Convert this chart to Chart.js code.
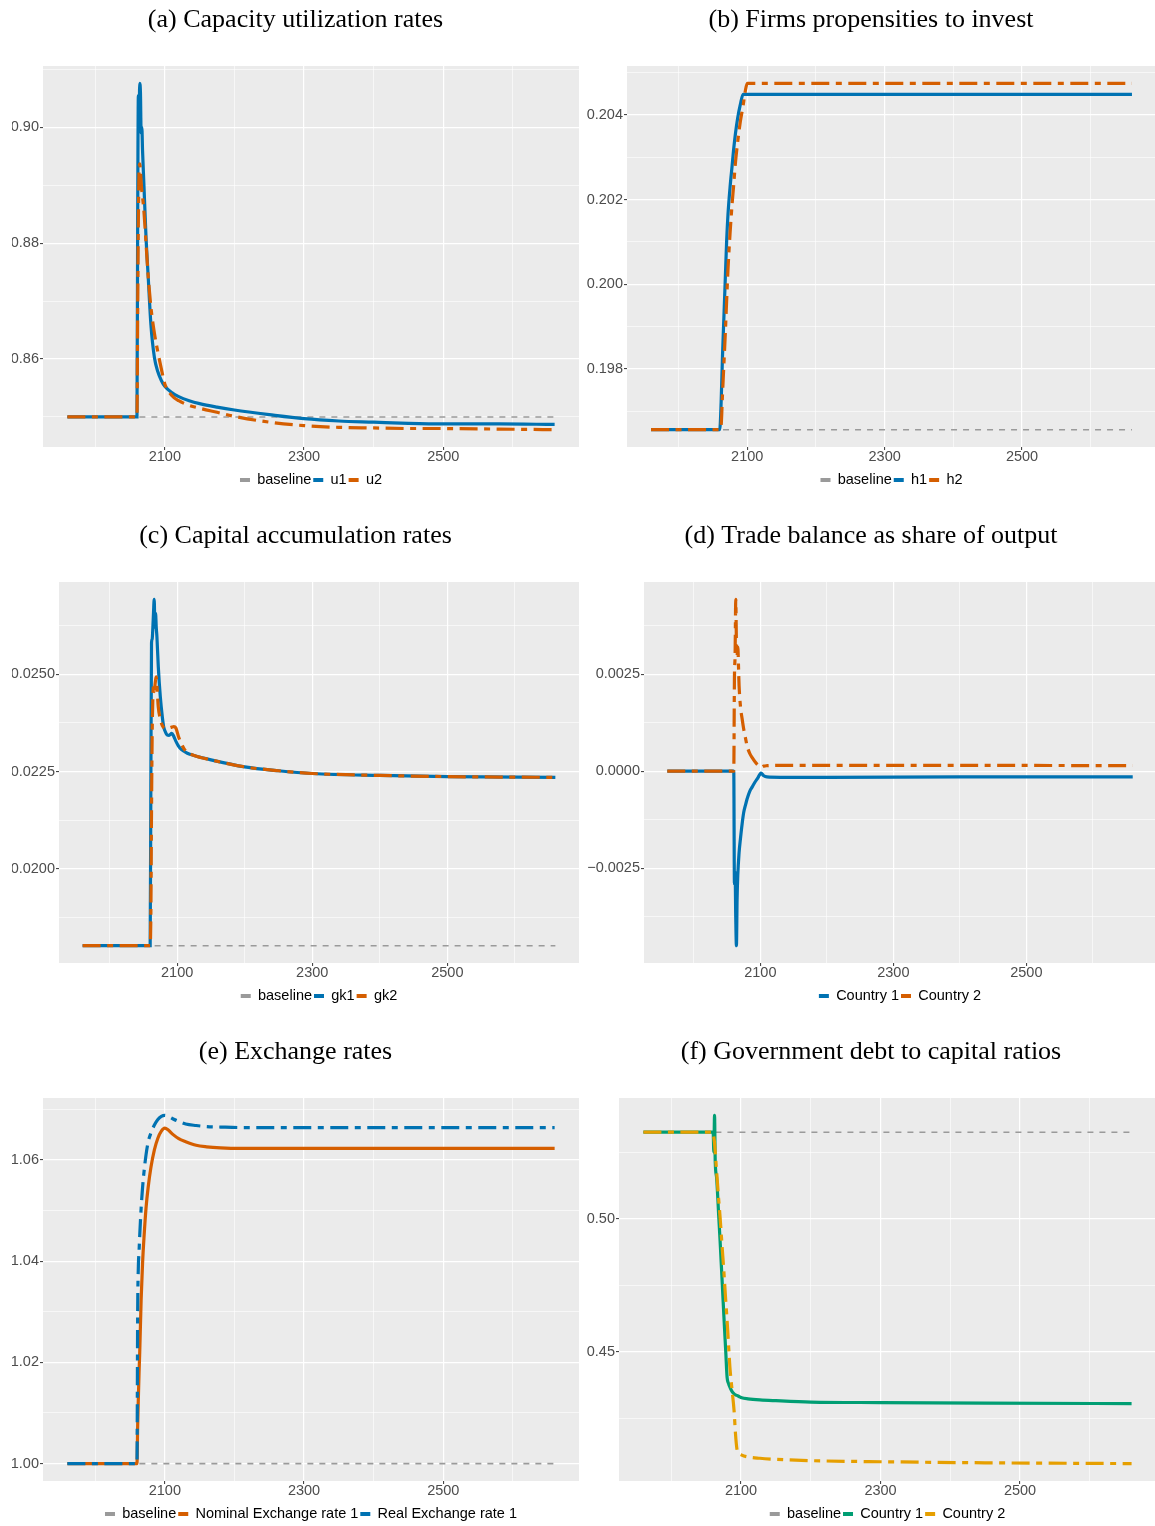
<!DOCTYPE html>
<html>
<head>
<meta charset="utf-8">
<script src="https://cdn.jsdelivr.net/npm/chart.js@4.4.1/dist/chart.umd.min.js"></script>
<style>
  html, body { margin: 0; padding: 0; background: #ffffff; width: 1155px; height: 1526px; overflow: hidden; }
  .cell { position: absolute; }
  canvas { display: block; }
</style>
</head>
<body>
<div class="cell" style="left:0px;top:0px"><canvas id="cA" width="590" height="516"></canvas></div>
<div class="cell" style="left:578px;top:0px"><canvas id="cB" width="592" height="516"></canvas></div>
<div class="cell" style="left:0px;top:516px"><canvas id="cC" width="590" height="516"></canvas></div>
<div class="cell" style="left:578px;top:516px"><canvas id="cD" width="592" height="516"></canvas></div>
<div class="cell" style="left:0px;top:1032px"><canvas id="cE" width="590" height="516"></canvas></div>
<div class="cell" style="left:578px;top:1032px"><canvas id="cF" width="592" height="516"></canvas></div>
<script>
// ---- time axis -------------------------------------------------------------
const xStart = 1960, xEnd = 2660;
const xMajor = [2100, 2300, 2500];
const xMinor = [2000, 2200, 2400, 2600];
const baseYears = [1960, 2660];

// ---- (a) capacity utilization ----------------------------------------------
const yearsA = [1960, 2060, 2061, 2062, 2063, 2064, 2065, 2066, 2067, 2068, 2070, 2073, 2076, 2080, 2085, 2090,
                2095, 2100, 2110, 2120, 2135, 2150, 2175, 2200, 2250, 2300, 2350, 2400, 2450, 2500, 2580, 2660];
const u1 = [0.8500, 0.8500, 0.8840, 0.9055, 0.9020, 0.9076, 0.9060, 0.8990, 0.9000, 0.8960, 0.8900, 0.8810, 0.8745, 0.8660, 0.8603, 0.8578,
            0.8563, 0.8553, 0.8542, 0.8535, 0.8528, 0.8523, 0.8517, 0.8512, 0.8504, 0.8497, 0.8493, 0.8491, 0.8489, 0.8488, 0.8488, 0.8487];
const u2 = [0.8500, 0.8500, 0.8680, 0.8840, 0.8925, 0.8937, 0.8925, 0.8905, 0.8890, 0.8880, 0.8855, 0.8800, 0.8745, 0.8690, 0.8645, 0.8612,
            0.8583, 0.8557, 0.8537, 0.8528, 0.8520, 0.8515, 0.8508, 0.8501, 0.8491, 0.8485, 0.8482, 0.8481, 0.8480, 0.8480, 0.8479, 0.8478];
const baseU = [0.85, 0.85];
const yMajorA = [0.86, 0.88, 0.90];
const yMinorA = [0.85, 0.87, 0.89, 0.91];

// ---- (b) propensities to invest --------------------------------------------
const yearsB = [1960, 2060, 2062, 2064, 2066, 2068, 2070, 2072, 2075, 2078, 2080, 2083, 2086, 2090, 2094, 2097, 2100, 2200, 2400, 2660];
const h1 = [0.19656, 0.19656, 0.19720, 0.19830, 0.19920, 0.20010, 0.20100, 0.20165, 0.20229, 0.20280, 0.20315, 0.20358, 0.20392, 0.20425,
            0.20449, 0.20449, 0.20449, 0.20449, 0.20449, 0.20449];
const h2 = [0.19656, 0.19656, 0.19665, 0.19740, 0.19810, 0.19880, 0.19960, 0.20035, 0.20120, 0.20190, 0.20229, 0.20290, 0.20335, 0.20385,
            0.20422, 0.20455, 0.20475, 0.20475, 0.20475, 0.20475];
const baseH = [0.19656, 0.19656];
const yMajorB = [0.198, 0.200, 0.202, 0.204];
const yMinorB = [0.197, 0.199, 0.201, 0.203, 0.205];

// ---- (c) capital accumulation ----------------------------------------------
const yearsC = [1960, 2060, 2061, 2062, 2063, 2064, 2065, 2066, 2067, 2068, 2069, 2070, 2072, 2075, 2078, 2080, 2083, 2085, 2088, 2092,
                2095, 2098, 2102, 2106, 2110, 2115, 2125, 2150, 2200, 2250, 2300, 2400, 2500, 2660];
const gk1 = [0.01803, 0.01803, 0.02210, 0.02580, 0.02590, 0.02620, 0.02660, 0.02692, 0.02620, 0.02656, 0.02620, 0.02596, 0.02520, 0.02442,
             0.02390, 0.02365, 0.02350, 0.02344, 0.02343, 0.02348, 0.02340, 0.02328, 0.02315, 0.02307, 0.02302, 0.02297, 0.02291, 0.02280,
             0.02262, 0.02252, 0.02245, 0.02240, 0.02237, 0.02235];
const gk2 = [0.01803, 0.01803, 0.01880, 0.02150, 0.02350, 0.02440, 0.02470, 0.02455, 0.02470, 0.02485, 0.02493, 0.02470, 0.02416, 0.02385,
             0.02368, 0.02363, 0.02361, 0.02361, 0.02362, 0.02364, 0.02365, 0.02362, 0.02339, 0.02322, 0.02309, 0.02300, 0.02291, 0.02280,
             0.02262, 0.02252, 0.02245, 0.02240, 0.02237, 0.02235];
const baseGk = [0.01803, 0.01803];
const yMajorC = [0.0200, 0.0225, 0.0250];
const yMinorC = [0.01875, 0.02125, 0.02375, 0.02625];

// ---- (d) trade balance / output --------------------------------------------
const yearsD = [1960, 2060, 2061, 2062, 2063, 2064, 2065, 2066, 2068, 2070, 2073, 2075, 2078, 2080, 2084, 2088, 2092, 2096, 2101, 2105,
                2110, 2130, 2200, 2400, 2660];
const tb1 = [0, 0, -0.00290, -0.00260, -0.00380, -0.00450, -0.00330, -0.00270, -0.00210, -0.00175, -0.00130, -0.00106, -0.00085, -0.00072,
             -0.00052, -0.00040, -0.00028, -0.00018, -0.00005, -0.00012, -0.00015, -0.00016, -0.00016, -0.00015, -0.00015];
const tb2 = [0, 0, 0.00240, 0.00300, 0.00443, 0.00330, 0.00297, 0.00320, 0.00220, 0.00168, 0.00130, 0.00108, 0.00082, 0.00065,
             0.00046, 0.00034, 0.00024, 0.00016, 0.00010, 0.00013, 0.00014, 0.00015, 0.00015, 0.00015, 0.00014];
const yMajorD = [-0.0025, 0, 0.0025];
const yMinorD = [-0.00375, -0.00125, 0.00125, 0.00375];

// ---- (e) exchange rates ----------------------------------------------------
const yearsE = [1960, 2060, 2061, 2062, 2063, 2064, 2066, 2068, 2070, 2073, 2076, 2080, 2085, 2090, 2095, 2100, 2105, 2112, 2120, 2130,
                2145, 2160, 2180, 2210, 2300, 2450, 2660];
const nominalRate = [1.0000, 1.0000, 1.0075, 1.0130, 1.0180, 1.0222, 1.0325, 1.0395, 1.0445, 1.0505, 1.0545, 1.0585, 1.0620, 1.0643,
                     1.0657, 1.0663, 1.0659, 1.0650, 1.0642, 1.0636, 1.0629, 1.0626, 1.0624, 1.0623, 1.0623, 1.0623, 1.0623];
const realRate = [1.0000, 1.0000, 1.0300, 1.0390, 1.0420, 1.0452, 1.0505, 1.0545, 1.0575, 1.0610, 1.0635, 1.0653, 1.0669, 1.0680,
                  1.0686, 1.0688, 1.0686, 1.0681, 1.0676, 1.0671, 1.0668, 1.0666, 1.0665, 1.0664, 1.0664, 1.0664, 1.0664];
const baseRate = [1.00, 1.00];
const yMajorE = [1.00, 1.02, 1.04, 1.06];
const yMinorE = [1.01, 1.03, 1.05, 1.07];

// ---- (f) government debt / capital -----------------------------------------
const yearsF = [1960, 2060, 2061, 2062, 2063, 2065, 2068, 2070, 2073, 2075, 2078, 2080, 2082, 2084, 2087, 2090, 2092, 2094, 2097, 2101,
                2110, 2127, 2150, 2200, 2300, 2450, 2660];
const debt1 = [0.5325, 0.5325, 0.5250, 0.5388, 0.5214, 0.5153, 0.5010, 0.4915, 0.4760, 0.4654, 0.4505, 0.4405, 0.4382, 0.4368,
               0.4352, 0.4343, 0.4339, 0.4337, 0.4333, 0.4328, 0.4324, 0.4320, 0.4317, 0.4312, 0.4310, 0.4308, 0.4306];
const debt2 = [0.5325, 0.5325, 0.5305, 0.5285, 0.5250, 0.5177, 0.5070, 0.5004, 0.4890, 0.4816, 0.4695, 0.4617, 0.4530, 0.4443,
               0.4360, 0.4280, 0.4194, 0.4138, 0.4120, 0.4113, 0.4106, 0.4101, 0.4097, 0.4092, 0.4088, 0.4084, 0.4081];
const baseDebt = [0.5325, 0.5325];
const yMajorF = [0.45, 0.50];
const yMinorF = [0.425, 0.475, 0.525];

// ---- styling ---------------------------------------------------------------
const BLUE = '#0072B2', ORANGE = '#D55E00', GREEN = '#009E73', GOLD = '#E69F00', GREY = '#9A9A9A';
const SOLID = [], DOTDASH = [18, 6.5, 6, 6.5], DASHED = [6, 6];

Chart.defaults.font.family = "'Liberation Sans', Arial, sans-serif";

// grey panel behind the plotting region
const panelBg = {
  id: 'panelBg',
  beforeDraw(chart) {
    const a = chart.chartArea, c = chart.ctx;
    c.save();
    c.fillStyle = '#EBEBEB';
    c.fillRect(a.left, a.top, a.right - a.left, a.bottom - a.top);
    c.restore();
  }
};

function tickList(major, minor) {
  return major.map(v => ({ value: v, minor: false }))
    .concat(minor.map(v => ({ value: v, minor: true })))
    .sort((p, q) => p.value - q.value);
}

const gridStyle = {
  color: '#FFFFFF',
  lineWidth: c => (c.tick && c.tick.minor) ? 0.6 : 1.2,
  tickColor: c => (c.tick && c.tick.minor) ? 'rgba(0,0,0,0)' : '#333333',
  tickLength: 3,
  tickWidth: 1,
  drawTicks: true
};

function fmt(dec) {
  return v => (v < -1e-12 ? '\u2212' : '') + Math.abs(v).toFixed(dec);
}

function panel(id, cfg) {
  const all = cfg.series.flatMap(s => s.y);
  const lo = Math.min(...all), hi = Math.max(...all);
  const yPad = (hi - lo) * 0.05, xPad = (xEnd - xStart) * 0.05;
  const label = fmt(cfg.decimals);
  new Chart(document.getElementById(id), {
    type: 'line',
    data: {
      datasets: cfg.series.map((s, i) => ({
        label: s.label,
        data: s.x.map((x, k) => ({ x: x, y: s.y[k] })),
        borderColor: s.color,
        backgroundColor: s.color,
        borderWidth: s.width,
        borderDash: s.dash,
        pointRadius: 0,
        pointHoverRadius: 0,
        pointHitRadius: 0,
        fill: false,
        cubicInterpolationMode: 'monotone',
        order: cfg.series.length - i
      }))
    },
    options: {
      responsive: false,
      animation: false,
      devicePixelRatio: 1,
      events: [],
      layout: { padding: { left: cfg.padL, right: cfg.padR, top: 0, bottom: cfg.padB } },
      scales: {
        x: {
          type: 'linear',
          bounds: 'data',
          min: xStart - xPad,
          max: xEnd + xPad,
          afterBuildTicks: s => { s.ticks = tickList(xMajor, xMinor); },
          afterFit: s => { s.height = 23.75; },
          grid: gridStyle,
          border: { display: false },
          ticks: {
            autoSkip: false, maxRotation: 0, minRotation: 0, padding: 0,
            color: '#4D4D4D', font: { size: 14.5, lineHeight: 1 },
            callback: (v, i, t) => t[i].minor ? '' : String(v)
          }
        },
        y: {
          type: 'linear',
          bounds: 'data',
          min: lo - yPad,
          max: hi + yPad,
          afterBuildTicks: s => { s.ticks = tickList(cfg.yMajor, cfg.yMinor); },
          afterFit: s => { s.width = cfg.yWidth; },
          grid: gridStyle,
          border: { display: false },
          ticks: {
            autoSkip: false, padding: 1,
            color: '#4D4D4D', font: { size: 14.5 },
            callback: (v, i, t) => t[i].minor ? '' : label(v)
          }
        }
      },
      plugins: {
        title: {
          display: true,
          text: cfg.title,
          color: '#000000',
          font: { family: "'Liberation Serif', 'Times New Roman', serif", size: 26, weight: 'normal', lineHeight: 1.2 },
          padding: { top: 5, bottom: 29.8 }
        },
        legend: {
          display: true,
          position: 'bottom',
          fullSize: false,
          labels: {
            boxWidth: 10,
            boxHeight: 4,
            padding: 2,
            color: '#000000',
            font: { size: 14.5 },
            generateLabels: chart => chart.data.datasets.map((d, i) => ({
              text: d.label, fillStyle: d.borderColor, strokeStyle: d.borderColor,
              lineWidth: 0, lineDash: [], hidden: false, datasetIndex: i, fontColor: '#000000'
            }))
          }
        },
        tooltip: { enabled: false }
      }
    },
    plugins: [panelBg]
  });
}

const LEFT = { padL: 12, padR: 11 };
const RIGHT = { padL: 8, padR: 14 };

panel('cA', Object.assign({}, LEFT, {
  padB: 18.75, yWidth: 31, decimals: 2,
  title: '(a) Capacity utilization rates',
  yMajor: yMajorA, yMinor: yMinorA,
  series: [
    { label: 'baseline', x: baseYears, y: baseU, color: GREY, width: 1.6, dash: DASHED },
    { label: 'u1', x: yearsA, y: u1, color: BLUE, width: 3.2, dash: SOLID },
    { label: 'u2', x: yearsA, y: u2, color: ORANGE, width: 3.2, dash: DOTDASH }
  ]
}));

panel('cB', Object.assign({}, RIGHT, {
  padB: 18.75, yWidth: 41, decimals: 3,
  title: '(b) Firms propensities to invest',
  yMajor: yMajorB, yMinor: yMinorB,
  series: [
    { label: 'baseline', x: baseYears, y: baseH, color: GREY, width: 1.6, dash: DASHED },
    { label: 'h1', x: yearsB, y: h1, color: BLUE, width: 3.2, dash: SOLID },
    { label: 'h2', x: yearsB, y: h2, color: ORANGE, width: 3.2, dash: DOTDASH }
  ]
}));

panel('cC', Object.assign({}, LEFT, {
  padB: 18.75, yWidth: 47, decimals: 4,
  title: '(c) Capital accumulation rates',
  yMajor: yMajorC, yMinor: yMinorC,
  series: [
    { label: 'baseline', x: baseYears, y: baseGk, color: GREY, width: 1.6, dash: DASHED },
    { label: 'gk1', x: yearsC, y: gk1, color: BLUE, width: 3.2, dash: SOLID },
    { label: 'gk2', x: yearsC, y: gk2, color: ORANGE, width: 3.2, dash: DOTDASH }
  ]
}));

panel('cD', Object.assign({}, RIGHT, {
  padB: 18.75, yWidth: 58, decimals: 4,
  title: '(d) Trade balance as share of output',
  yMajor: yMajorD, yMinor: yMinorD,
  series: [
    { label: 'Country 1', x: yearsD, y: tb1, color: BLUE, width: 3.2, dash: SOLID },
    { label: 'Country 2', x: yearsD, y: tb2, color: ORANGE, width: 3.2, dash: DOTDASH }
  ]
}));

panel('cE', Object.assign({}, LEFT, {
  padB: 16.75, yWidth: 31, decimals: 2,
  title: '(e) Exchange rates',
  yMajor: yMajorE, yMinor: yMinorE,
  series: [
    { label: 'baseline', x: baseYears, y: baseRate, color: GREY, width: 1.6, dash: DASHED },
    { label: 'Nominal Exchange rate 1', x: yearsE, y: nominalRate, color: ORANGE, width: 3.2, dash: SOLID },
    { label: 'Real Exchange rate 1', x: yearsE, y: realRate, color: BLUE, width: 3.2, dash: DOTDASH }
  ]
}));

panel('cF', Object.assign({}, RIGHT, {
  padB: 16.75, yWidth: 33, decimals: 2,
  title: '(f) Government debt to capital ratios',
  yMajor: yMajorF, yMinor: yMinorF,
  series: [
    { label: 'baseline', x: baseYears, y: baseDebt, color: GREY, width: 1.6, dash: DASHED },
    { label: 'Country 1', x: yearsF, y: debt1, color: GREEN, width: 3.2, dash: SOLID },
    { label: 'Country 2', x: yearsF, y: debt2, color: GOLD, width: 3.2, dash: DOTDASH }
  ]
}));
</script>
</body>
</html>
